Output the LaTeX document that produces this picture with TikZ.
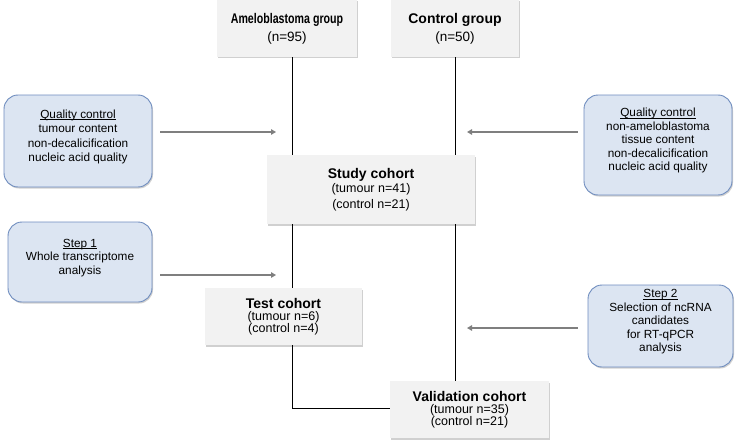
\documentclass[tikz,border=0pt]{standalone}
\usepackage{fontspec}
\setmainfont{Liberation Sans}
\usetikzlibrary{shadows,arrows.meta}
\definecolor{boxgray}{HTML}{F2F2F2}
\definecolor{bluefill}{HTML}{DCE5F2}
\definecolor{blueline}{HTML}{6F8DBF}
\definecolor{arrowgray}{HTML}{7F7F7F}
\newcommand{\titlef}{\fontsize{14}{17}\selectfont\bfseries}
\newcommand{\nf}{\fontsize{13.5}{16}\selectfont}
\newcommand{\subf}{\fontsize{12.5}{15}\selectfont}
\newcommand{\bluef}{\fontsize{11.8}{14.5}\selectfont}
\newcommand{\bluetight}{\fontsize{11.8}{13.5}\selectfont}
\newcommand{\ulbl}[1]{\underline{\smash{#1}}}
\begin{document}
\begin{tikzpicture}[x=1pt,y=-1pt,
  graybox/.style={fill=boxgray, align=center, inner sep=0pt,
    drop shadow={shadow xshift=1pt, shadow yshift=-1.5pt, opacity=0.3, fill=black!60}},
  bluebox/.style={fill=bluefill, draw=blueline, line width=0.9pt, rounded corners=14pt,
    align=center, inner sep=0pt, font=\bluef,
    drop shadow={shadow xshift=1pt, shadow yshift=-1.5pt, opacity=0.3, fill=black!60}},
  conn/.style={draw=black, line width=0.9pt},
  garrow/.style={draw=arrowgray, line width=2pt, -{Triangle[length=5pt,width=5.5pt]}}]
\useasboundingbox (0,0) rectangle (736,444);
\fill[white] (0,0) rectangle (736,444);

% gray boxes
\node[graybox, minimum width=140pt, minimum height=57pt] (amel) at (287,28.5)
  {{\titlef \scalebox{0.76}[1]{Ameloblastoma group}}\\[4pt]{\nf (n=95)}};
\node[graybox, minimum width=128pt, minimum height=57pt] (ctrl) at (455,28.5)
  {{\titlef Control group}\\[4pt]{\nf (n=50)}};
\node[graybox, minimum width=208pt, minimum height=69pt] (study) at (371,189.5)
  {{\titlef Study cohort}\\[2pt]{\subf (tumour n=41)}\\[4pt]{\subf (control n=21)}};
\node[graybox, minimum width=157pt, minimum height=57pt] (test) at (283.5,316.5)
  {{\titlef Test cohort}\\[0pt]{\subf (tumour n=6)}\\{\subf (control n=4)}};
\node[graybox, minimum width=159pt, minimum height=57pt] (valid) at (469.5,409.5)
  {{\titlef Validation cohort}\\[0pt]{\subf (tumour n=35)}\\{\subf (control n=21)}};

% blue boxes
\node[bluebox, minimum width=148pt, minimum height=92pt] (qc1) at (78,141)
  {\ulbl{Quality control}\\tumour content\\non-decalicification\\nucleic acid quality};
\node[bluebox, minimum width=148pt, minimum height=100pt, font=\bluetight] (qc2) at (658,145)
  {\ulbl{Quality control}\\non-ameloblastoma\\tissue content\\non-decalicification\\nucleic acid quality};
\node[bluebox, minimum width=144pt, minimum height=80pt, font=\bluetight] (s1) at (80,262)
  {\ulbl{Step 1}\\Whole transcriptome\\analysis};
\node[bluebox, minimum width=145pt, minimum height=82pt, font=\bluetight] (s2) at (660.5,326)
  {\ulbl{Step 2}\\Selection of ncRNA\\candidates\\for RT-qPCR\\analysis};

% connector columns
\coordinate (xl) at (292,0);
\coordinate (xr) at (455,0);
\coordinate (bend) at (292,408);

\draw[conn] (xl |- amel.south) -- (xl |- study.north);
\draw[conn] (xr |- ctrl.south) -- (xr |- study.north);
\draw[conn] (xl |- study.south) -- (xl |- test.north);
\draw[conn] (xr |- study.south) -- (xr |- valid.north);
\draw[conn] (xl |- test.south) -- (bend) -- (bend -| valid.west);

% arrows
\coordinate (a1) at (276,132);
\coordinate (a2) at (467,132);
\coordinate (a3) at (276,275);
\coordinate (a4) at (467,328);
\draw[garrow] ([xshift=8pt]qc1.east |- a1) -- (a1);
\draw[garrow] ([xshift=-6pt]qc2.west |- a2) -- (a2);
\draw[garrow] ([xshift=8pt]s1.east |- a3) -- (a3);
\draw[garrow] ([xshift=-10pt]s2.west |- a4) -- (a4);
\end{tikzpicture}
\end{document}
